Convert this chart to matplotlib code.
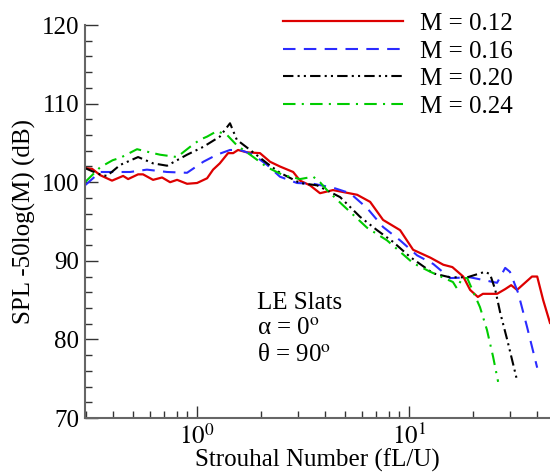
import matplotlib
matplotlib.use("Agg")
import matplotlib.pyplot as plt
from matplotlib.ticker import LogLocator, MultipleLocator, NullFormatter

plt.rcParams["font.family"] = ["Liberation Serif", "DejaVu Serif"]
plt.rcParams["mathtext.fontset"] = "stix"

# Strouhal number / SPL readings for each Mach number
st_m12 = [0.296, 0.320, 0.349, 0.397, 0.448, 0.473, 0.527, 0.556, 0.620, 0.684,
          0.746, 0.805, 0.897, 1.0, 1.115, 1.19, 1.28, 1.40, 1.48, 1.56,
          1.72, 1.98, 2.21, 2.46, 2.84, 3.06, 3.41, 3.80, 4.38, 5.69,
          6.55, 7.54, 9.07, 10.45, 12.6, 14.5, 16.0, 18.0, 19.4, 21.1,
          22.3, 26.0, 28.4, 30.3, 32.3, 38.0, 40.2, 42.9, 46.2]
spl_m12 = [101.8, 101.7, 100.9, 100.2, 100.8, 100.4, 101.0, 101.0, 100.3, 100.6,
           100.0, 100.3, 99.8, 99.9, 100.5, 101.6, 102.4, 103.7, 103.7, 104.1,
           103.8, 103.7, 102.6, 102.0, 101.3, 100.2, 99.6, 98.6, 99.0, 98.4,
           97.5, 95.2, 93.9, 91.4, 90.4, 89.5, 89.2, 88.0, 86.3, 85.4,
           85.8, 85.8, 86.4, 86.9, 86.3, 88.0, 88.0, 85.0, 82.1]

st_m16 = [0.296, 0.349, 0.40, 0.483, 0.58, 0.722, 0.897, 1.07, 1.24, 1.43,
          1.60, 1.84, 2.14, 2.46, 2.96, 3.53, 4.38, 5.27, 6.34, 7.54,
          9.07, 10.9, 13.0, 15.6, 19.4, 26.0, 28.4, 29.9, 32.7, 36.0,
          40.2]
spl_m16 = [99.6, 101.3, 101.3, 101.3, 101.6, 101.3, 101.2, 102.6, 103.5, 104.1,
           104.1, 103.5, 102.2, 100.7, 99.9, 99.8, 99.3, 98.6, 96.7, 94.3,
           92.6, 90.7, 89.6, 87.8, 87.9, 87.2, 89.1, 88.6, 85.9, 81.6,
           76.4]

st_m20 = [0.296, 0.320, 0.356, 0.376, 0.434, 0.527, 0.620, 0.722, 0.897, 1.07,
          1.28, 1.43, 1.54, 1.78, 2.14, 2.46, 3.06, 3.68, 4.73, 5.87,
          7.06, 8.41, 10.1, 13.0, 15.6, 18.8, 22.8, 24.1, 25.5, 26.9,
          29.0, 32.3]
spl_m20 = [101.8, 101.4, 100.9, 100.8, 102.2, 103.2, 102.4, 102.1, 103.5, 104.5,
           105.8, 107.5, 105.4, 104.1, 102.4, 101.2, 99.9, 99.6, 98.1, 95.6,
           93.9, 92.4, 90.5, 88.4, 87.9, 87.9, 88.6, 88.3, 86.3, 83.4,
           80.0, 74.8]

st_m24 = [0.296, 0.349, 0.40, 0.434, 0.521, 0.620, 0.669, 0.805, 0.927, 1.03,
          1.115, 1.24, 1.386, 1.54, 1.78, 2.14, 2.55, 3.06, 3.53, 3.80,
          4.10, 4.73, 6.34, 7.87, 10.45, 12.6, 16.1, 16.8, 17.8, 18.8,
          21.6, 23.3, 24.9, 26.3]
spl_m24 = [100.0, 101.9, 102.8, 103.1, 104.2, 103.7, 103.5, 103.2, 104.5, 105.4,
           105.8, 106.5, 106.0, 104.7, 103.5, 101.9, 100.9, 100.4, 100.7, 100.0,
           99.0, 97.4, 94.2, 92.6, 89.7, 88.6, 87.3, 86.5, 87.8, 87.8,
           84.1, 81.2, 77.8, 74.6]

labels = ["M = 0.12", "M = 0.16", "M = 0.20", "M = 0.24"]

fig = plt.figure(figsize=(5.5, 4.72), dpi=100)
ax = fig.add_axes([0.1545, 0.1144, 0.8455, 0.8326])

ax.plot(st_m12, spl_m12, color="#dd0000", lw=1.6, label=labels[0])
ax.plot(st_m16, spl_m16, color="#2b2bff", lw=1.5, dashes=(6, 4), label=labels[1])
ax.plot(st_m20, spl_m20, color="black", lw=1.5, dashes=(5, 2, 1, 2, 1, 2), label=labels[2])
ax.plot(st_m24, spl_m24, color="#00cc00", lw=1.5, dashes=(6, 3, 1, 3), label=labels[3])

ax.set_xscale("log")
ax.set_xlim(0.296, 46.2)
ax.set_ylim(70, 120)
ax.yaxis.set_major_locator(MultipleLocator(10))
ax.yaxis.set_minor_locator(MultipleLocator(2))
ax.xaxis.set_minor_locator(LogLocator(base=10, subs=range(2, 10), numticks=20))
ax.xaxis.set_minor_formatter(NullFormatter())
ax.set_xticks([1, 10])
ax.set_xticklabels(["$10^0$", "$10^1$"])

for side in ("top", "right"):
    ax.spines[side].set_visible(False)
for side in ("left", "bottom"):
    ax.spines[side].set_color("#666666")
    ax.spines[side].set_linewidth(1.5)

ax.tick_params(which="major", direction="in", length=9, width=1, color="#333333",
               labelsize=18, pad=4)
ax.tick_params(which="minor", direction="in", length=5, width=1, color="#333333")

ax.set_xlabel("Strouhal Number (fL/U)", fontsize=18, labelpad=0)
ax.set_ylabel("SPL -50log(M) (dB)", fontsize=18, labelpad=4)

ax.legend(loc="upper right", bbox_to_anchor=(0.942, 1.057), frameon=False,
          fontsize=18, handlelength=4.8, handletextpad=0.7,
          labelspacing=0.2, borderaxespad=0.0)

notes = ["LE Slats", "α = 0$^{\\rm o}$", "θ = 90$^{\\rm o}$"]
for note, ypos in zip(notes, [0.293, 0.226, 0.160]):
    ax.text(0.37, ypos, note, transform=ax.transAxes, fontsize=18,
            va="center", ha="left")

fig.savefig("out.png", dpi=100)
